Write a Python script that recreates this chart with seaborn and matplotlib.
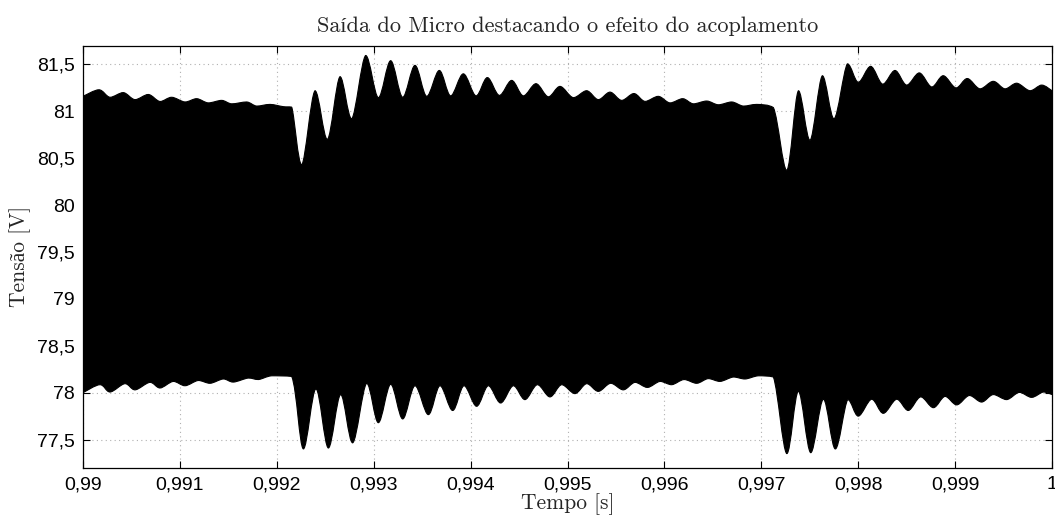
import numpy as np
import pandas as pd
import matplotlib
matplotlib.use("Agg")
import matplotlib.pyplot as plt
from matplotlib.path import Path
from matplotlib.patches import PathPatch
import seaborn as sns

# ---- data ----
upper_t = [0.990000, 0.990165, 0.990279, 0.990416, 0.990537, 0.990674, 0.990795, 0.990915,
           0.991053, 0.991173, 0.991293, 0.991431, 0.991535, 0.991689, 0.991793, 0.991930,
           0.992067, 0.992154, 0.992257, 0.992394, 0.992522, 0.992652, 0.992773, 0.992917,
           0.993048, 0.993175, 0.993299, 0.993426, 0.993547, 0.993677, 0.993794, 0.993925,
           0.994056, 0.994173, 0.994297, 0.994424, 0.994544, 0.994675, 0.994802, 0.994923,
           0.995060, 0.995198, 0.995318, 0.995439, 0.995559, 0.995686, 0.995800, 0.995937,
           0.996058, 0.996189, 0.996299, 0.996437, 0.996557, 0.996695, 0.996815, 0.996953,
           0.997125, 0.997263, 0.997383, 0.997503, 0.997630, 0.997751, 0.997888, 0.998001,
           0.998129, 0.998253, 0.998380, 0.998500, 0.998631, 0.998759, 0.998878, 0.999009,
           0.999126, 0.999257, 0.999394, 0.999515, 0.999636, 0.999773, 0.999894, 1.000000]
upper_v = [81.16, 81.23, 81.15, 81.20, 81.125, 81.18, 81.105, 81.15,
           81.10, 81.135, 81.09, 81.117, 81.08, 81.10, 81.056, 81.074,
           81.05, 81.045, 80.43, 81.22, 80.70, 81.37, 80.92, 81.596,
           81.146, 81.54, 81.15, 81.49, 81.16, 81.436, 81.165, 81.40,
           81.165, 81.36, 81.17, 81.33, 81.165, 81.295, 81.155, 81.266,
           81.146, 81.22, 81.125, 81.205, 81.117, 81.19, 81.106, 81.16,
           81.09, 81.135, 81.08, 81.11, 81.07, 81.10, 81.056, 81.074,
           81.04, 80.37, 81.22, 80.69, 81.38, 80.92, 81.507, 81.31,
           81.48, 81.29, 81.436, 81.28, 81.41, 81.26, 81.38, 81.25,
           81.35, 81.24, 81.32, 81.24, 81.30, 81.22, 81.28, 81.22]

lower_t = [0.990000, 0.990175, 0.990279, 0.990433, 0.990537, 0.990691, 0.990795, 0.990932,
           0.991053, 0.991190, 0.991311, 0.991448, 0.991551, 0.991706, 0.991810, 0.991947,
           0.992154, 0.992274, 0.992404, 0.992532, 0.992659, 0.992783, 0.992927, 0.993048,
           0.993175, 0.993299, 0.993426, 0.993564, 0.993684, 0.993815, 0.993932, 0.994062,
           0.994183, 0.994310, 0.994441, 0.994561, 0.994689, 0.994819, 0.994940, 0.995077,
           0.995198, 0.995318, 0.995446, 0.995576, 0.995697, 0.995825, 0.995955, 0.996075,
           0.996203, 0.996333, 0.996453, 0.996574, 0.996712, 0.996832, 0.996970, 0.997125,
           0.997263, 0.997383, 0.997510, 0.997641, 0.997764, 0.997892, 0.998001, 0.998139,
           0.998259, 0.998397, 0.998517, 0.998645, 0.998776, 0.998896, 0.999017, 0.999147,
           0.999274, 0.999394, 0.999532, 0.999663, 0.999790, 0.999911, 1.000000]
lower_v = [78.00, 78.085, 78.007, 78.096, 78.03, 78.11, 78.05, 78.12,
           78.074, 78.13, 78.10, 78.146, 78.113, 78.156, 78.14, 78.18,
           78.173, 77.40, 78.04, 77.41, 77.98, 77.465, 78.10, 77.68,
           78.09, 77.72, 78.074, 77.766, 78.074, 77.81, 78.074, 77.855,
           78.074, 77.89, 78.074, 77.926, 78.085, 77.955, 78.085, 77.99,
           78.096, 78.014, 78.10, 78.03, 78.11, 78.056, 78.12, 78.085,
           78.14, 78.10, 78.15, 78.12, 78.167, 78.146, 78.18, 78.167,
           77.35, 78.014, 77.36, 77.93, 77.40, 77.926, 77.75, 77.93,
           77.78, 77.93, 77.81, 77.955, 77.84, 77.96, 77.87, 77.97,
           77.90, 77.98, 77.926, 78.003, 77.95, 78.007, 77.98]

x_ticks = [0.990, 0.991, 0.992, 0.993, 0.994, 0.995, 0.996, 0.997, 0.998, 0.999, 1.000]
x_labels = ["0,99", "0,991", "0,992", "0,993", "0,994", "0,995", "0,996", "0,997",
            "0,998", "0,999", "1"]
y_ticks = [77.5, 78.0, 78.5, 79.0, 79.5, 80.0, 80.5, 81.0, 81.5]
y_labels = ["77,5", "78", "78,5", "79", "79,5", "80", "80,5", "81", "81,5"]

title = "Saída do Micro destacando o efeito do acoplamento"
xlabel = "Tempo [s]"
ylabel = "Tensão [V]"


def smooth_segments(ts, vs):
    """Cubic Bezier path pieces through the data points (no overshoot past neighbours)."""
    P = np.column_stack([ts, vs])
    n = len(P)
    verts, codes = [], []
    for i in range(n - 1):
        p0 = P[max(i - 1, 0)]
        p1 = P[i]
        p2 = P[i + 1]
        p3 = P[min(i + 2, n - 1)]
        c1 = p1 + (p2 - p0) / 6.0
        c2 = p2 - (p3 - p1) / 6.0
        lo_, hi_ = min(p1[1], p2[1]), max(p1[1], p2[1])
        c1[1] = np.clip(c1[1], lo_, hi_)
        c2[1] = np.clip(c2[1], lo_, hi_)
        verts += [tuple(c1), tuple(c2), tuple(p2)]
        codes += [Path.CURVE4] * 3
    return verts, codes


# ---- plotting ----
sns.set_style("ticks")
plt.rcParams["font.family"] = ["Liberation Sans", "DejaVu Sans"]
serif = ["cmr10", "Liberation Serif", "DejaVu Serif"]

W, H = 1055, 515
fig = plt.figure(figsize=(W / 100, H / 100), dpi=100)
ax = fig.add_axes([83 / W, 1 - 467.7 / H, (1052 - 83) / W, (467.7 - 45.7) / H])

up = pd.DataFrame({"t": upper_t, "v": upper_v})
lo = pd.DataFrame({"t": lower_t, "v": lower_v})

# black band between the two envelopes (smooth outline through the read points)
uv, uc = smooth_segments(up["t"].values, up["v"].values)
lv, lc = smooth_segments(lo["t"].values[::-1], lo["v"].values[::-1])
verts = [(up["t"].iloc[0], up["v"].iloc[0])] + uv + [(lo["t"].iloc[-1], lo["v"].iloc[-1])] + lv + [(0, 0)]
codes = [Path.MOVETO] + uc + [Path.LINETO] + lc + [Path.CLOSEPOLY]
ax.add_patch(PathPatch(Path(verts, codes), facecolor="black", edgecolor="black", lw=0.8, zorder=3))

# envelope traces via seaborn (hidden under the band, keeps data on the axes)
sns.lineplot(data=up, x="t", y="v", ax=ax, color="black", lw=0, estimator=None, zorder=2)
sns.lineplot(data=lo, x="t", y="v", ax=ax, color="black", lw=0, estimator=None, zorder=2)

ax.set_xlim(0.99, 1.0)
ax.set_ylim(77.2, 81.7)
ax.set_xticks(x_ticks)
ax.set_xticklabels(x_labels)
ax.set_yticks(y_ticks)
ax.set_yticklabels(y_labels)
ax.tick_params(direction="in", length=5, width=0.8, top=True, right=True,
               labelsize=14, colors="black", pad=6)
ax.grid(True, linestyle=(0, (1, 3)), color="#b0b0b0", lw=0.8, zorder=0)
ax.set_axisbelow(True)
for s in ax.spines.values():
    s.set_visible(True)
    s.set_color("black")
    s.set_linewidth(0.9)

ax.set_xlabel(xlabel, family=serif, fontsize=15.5, labelpad=0)
ax.set_ylabel(ylabel, family=serif, fontsize=15.5, labelpad=4)
ax.set_title(title, family=serif, fontsize=16, pad=10)

fig.savefig("out.png", dpi=100)
